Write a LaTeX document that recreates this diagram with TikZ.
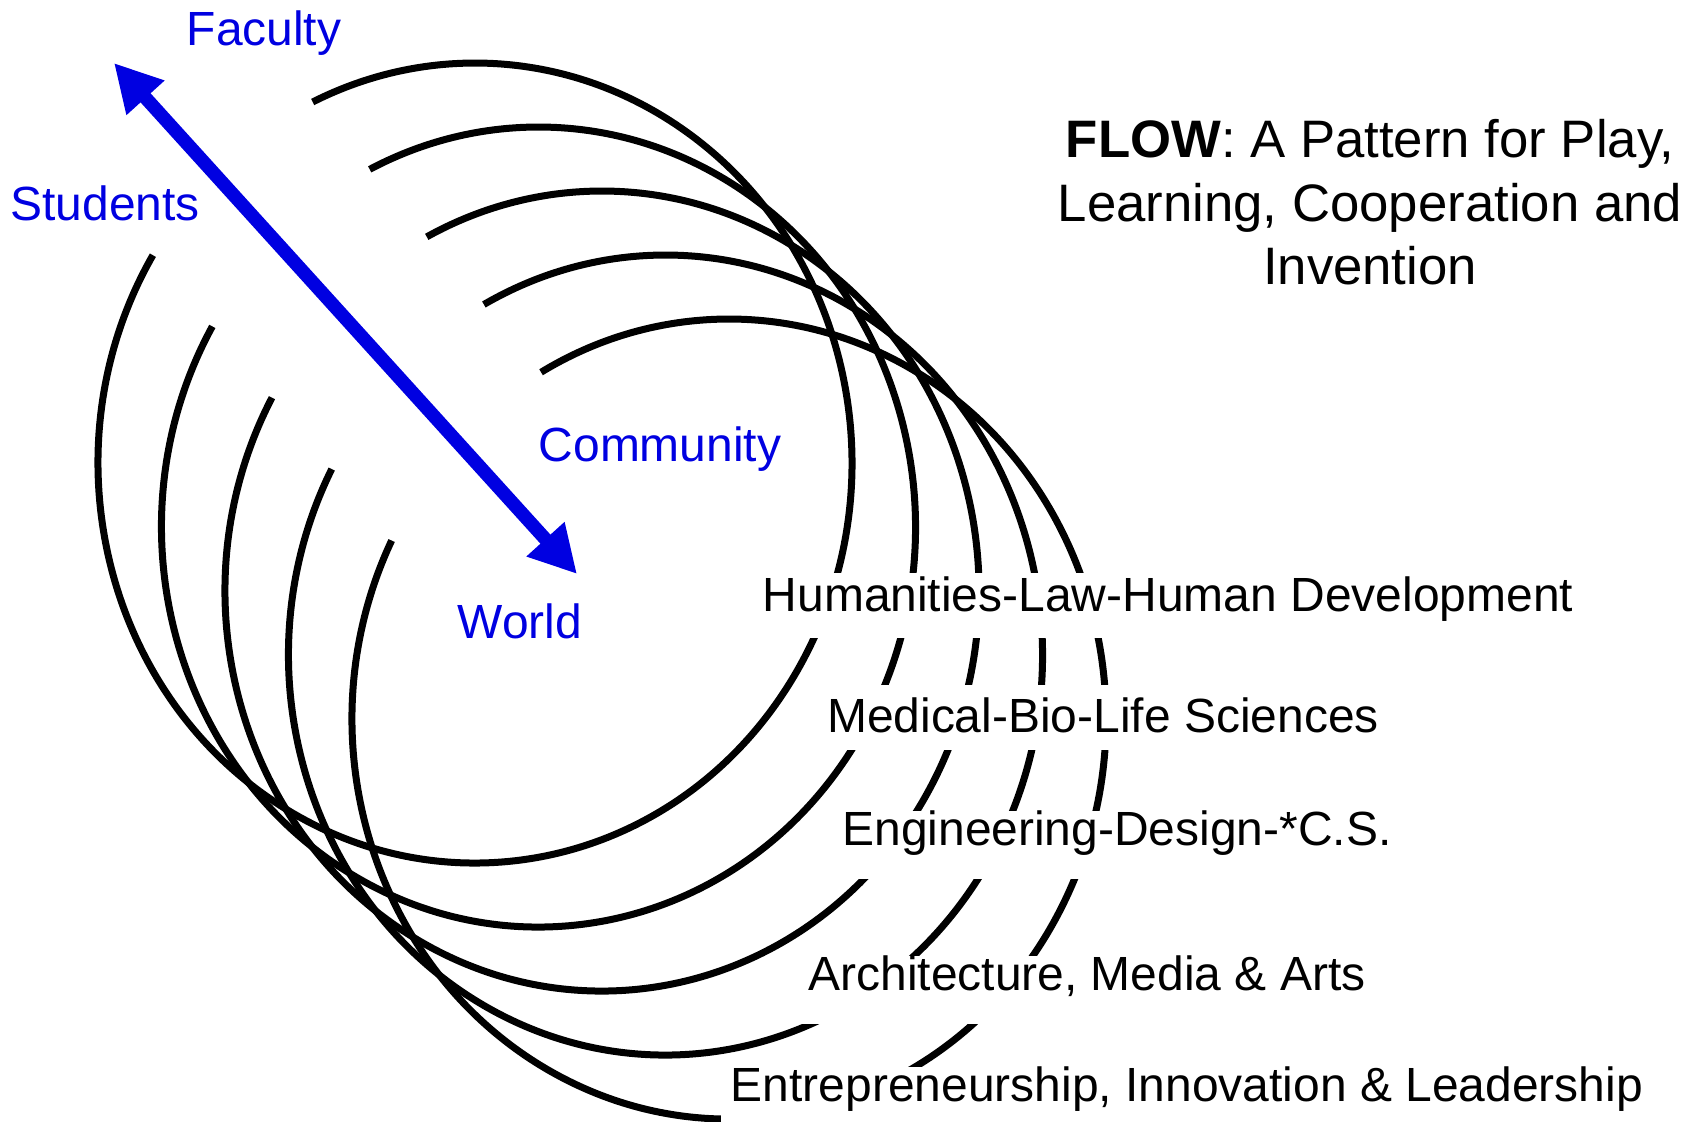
\documentclass[tikz,border=0pt]{standalone}
\usepackage{fontspec}
\setmainfont{Liberation Sans}
\usepackage{xcolor}
\usepackage{tikz}
\usetikzlibrary{arrows.meta}
\definecolor{flowblue}{RGB}{0, 0, 225}

\tikzset{
  ring/.style={draw=black,line width=0.7mm},
  field/.style={fill=white,inner xsep=1mm,inner ysep=0pt,anchor=base,font=\fontsize{13.65}{16}\selectfont},
  party/.style={text=flowblue,inner sep=0pt,anchor=base,font=\fontsize{13.65}{16}\selectfont}
}

\begin{document}
\begin{tikzpicture}[x=0.1mm,y=-0.1mm]
        \useasboundingbox (0,0) rectangle (1693,1122);
        % five open rings, each one shifted down to the right
        \foreach \i in {0,...,4} {
            \pgfmathsetmacro{\cx}{475+63.5*\i}
            \pgfmathsetmacro{\cy}{463+64*\i}
            \pgfmathsetmacro{\sa}{-(148.7+1.2*\i)}
            \pgfmathsetmacro{\ea}{-(475.5+1.1*\i)}
            \draw[ring] (\cx,\cy) ++(\sa:377 and 400) arc[start angle=\sa,end angle=\ea,x radius=377,y radius=400];
        }
        % the double arrow
        \coordinate (facultytip) at (114,63);
        \coordinate (worldtip) at (577,574);
        \draw[flowblue,line width=1.35mm,{Triangle[length=4.7mm,width=4.8mm]}-{Triangle[length=4.7mm,width=4.8mm]}] (facultytip) -- (worldtip);
        \node[party] (faculty) at (264,46) {Faculty};
        \node[party] (students) at (105,221) {Students};
        \node[party] (community) at (660,461) {Community};
        \node[party] (world) at (520,638) {World};
        % the fields
        \node[field,text height=3.8mm,text depth=2.7mm] (humanities) at (1168,611) {Humanities-Law-Human Development};
        \node[field,text height=4.7mm,text depth=1.8mm] (medical) at (1103,732) {Medical-Bio-Life Sciences};
        \node[field,text height=3.4mm,text depth=3.4mm] (engineering) at (1117,845) {Engineering-Design-*C.S.};
        \node[field,text height=3.4mm,text depth=3.4mm] (architecture) at (1087,990) {Architecture, Media \& Arts};
        \node[field,text height=3.4mm,text depth=3.2mm] (entrepreneurship) at (1187,1101) {Entrepreneurship, Innovation \& Leadership};
        % title
        \node[align=center,anchor=base,inner sep=0pt,font=\fontsize{15}{18.2}\selectfont] (title) at (1370,285) {\textbf{FLOW}: A Pattern for Play,\\ Learning, Cooperation and\\ Invention};
    \end{tikzpicture}
\end{document}
